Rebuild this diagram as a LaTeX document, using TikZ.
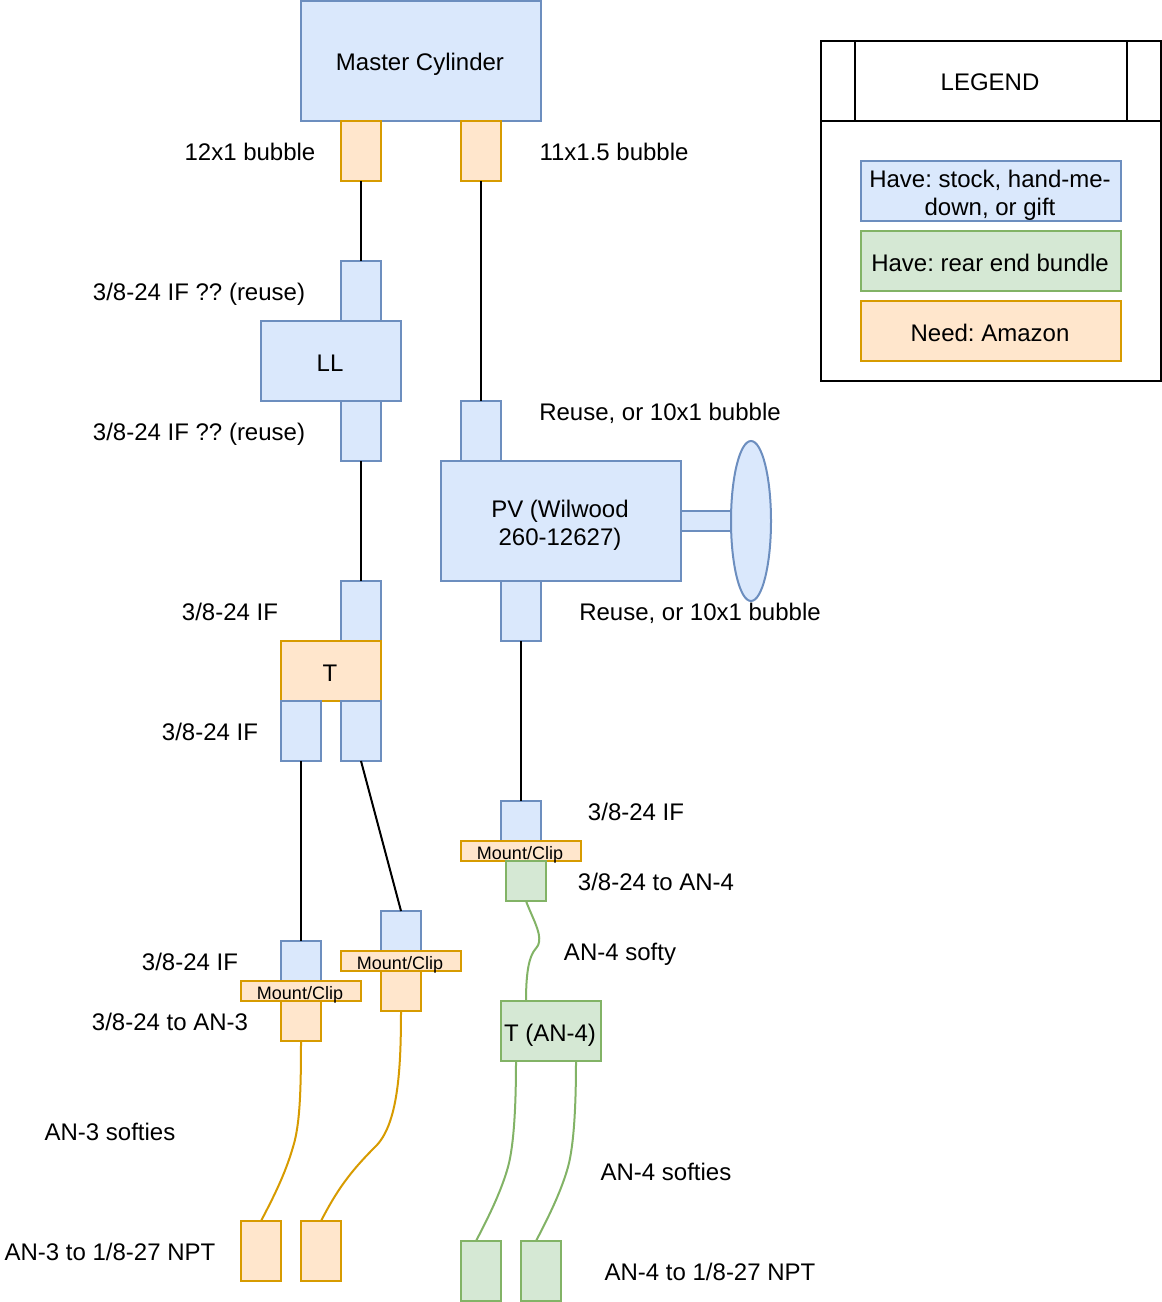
\documentclass[tikz,border=0pt]{standalone}
\usepackage{fontspec}
\setmainfont{Liberation Sans}
\usetikzlibrary{positioning, shapes.geometric}

\definecolor{haveFill}{HTML}{DAE8FC}
\definecolor{haveLine}{HTML}{6C8EBF}
\definecolor{needFill}{HTML}{FFE6CC}
\definecolor{needLine}{HTML}{D79B00}
\definecolor{rearFill}{HTML}{D5E8D4}
\definecolor{rearLine}{HTML}{82B366}

\begin{document}
\begin{tikzpicture}[
        x=0.75pt, y=-0.75pt,
        node distance = 0pt,
        line width=1.5pt,
        base/.style = {outer sep=0pt, inner sep=0pt, align=center,
                    font=\fontsize{18}{21}\selectfont\frenchspacing},
        box/.style = {base, rectangle, draw=#1Line, fill=#1Fill,
                    minimum width=30pt, minimum height=45pt},
        short/.style = {box=#1, minimum height=30pt},
        nudge/.style = {execute at begin node=\leavevmode\kern-1.5pt},
        clip/.style = {box=need, nudge, minimum width=90pt, minimum height=15pt,
                    font=\fontsize{13.5}{15}\selectfont, text height=12.5pt, text depth=0.4pt},
        tag/.style = {nudge, text height=17pt, text depth=2pt},
        lbl/.style = {base, text height=15pt, text depth=2pt},
        frame/.style = {base, rectangle, draw=black},
        hose/.style = {draw=#1Line, line width=1.5pt}
                    ]
        \useasboundingbox (0,0) rectangle (1162,1302);
        \node (mc) [box=have, tag, minimum width=180pt, minimum height=90pt] at (421,61) {Master Cylinder};
        \node (mcA) [box=need] at (361,151) {};
        \node (mcB) [box=need] at (481,151) {};
        %
        \node (llTop) [box=have] at (361,291) {};
        \node (ll) [box=have, tag, minimum width=105pt, minimum height=60pt] at (331,361) {LL};
        \node (llBot) [box=have] at (361,431) {};
        %
        \node (tTop) [box=have] at (361,611) {};
        \node (t) [box=need, tag, minimum width=75pt] at (331,671) {T};
        \node (tBotA) [box=have] at (301,731) {};
        \node (tBotB) [box=have] at (361,731) {};
        %
        \node (pvTop) [box=have] at (481,431) {};
        \node (pv) [box=have, nudge, minimum width=180pt, minimum height=90pt] at (561,521) {\rule{0pt}{19pt}PV (Wilwood\\260-12627)};
        \node (pvBot) [box=have] at (521,611) {};
        \node (stem) [box=have, minimum width=37.5pt, minimum height=15pt] at (706,521) {};
        \node (disc) [base, ellipse, draw=haveLine, fill=haveFill, minimum width=30pt, minimum height=120pt] at (751,521) {};
        %
        \node (frontA) [short=have] at (301,961) {};
        \node (clipA) [clip, below=of frontA] {Mount/Clip};
        \node (fitA) [short=need, below=of clipA] {};
        \node (frontB) [short=have] at (401,931) {};
        \node (clipB) [clip, below=of frontB] {Mount/Clip};
        \node (fitB) [short=need, below=of clipB] {};
        \node (rear) [short=have] at (521,821) {};
        \node (clipC) [clip, below=of rear] {Mount/Clip};
        \node (fitC) [short=rear] at (526,881) {};
        %
        \node (tan) [box=rear, tag, minimum width=75pt] at (551,1031) {T (AN-4)};
        \node (endA) [box=need] at (261,1251) {};
        \node (endB) [box=need] at (321,1251) {};
        \node (endC) [box=rear] at (481,1271) {};
        \node (endD) [box=rear] at (541,1271) {};
        %
        \draw (mcA) to (llTop);
        \draw (mcB) to (pvTop);
        \draw (llBot) to (tTop);
        \draw (pvBot) to (rear);
        \draw (tBotA) to (frontA);
        \draw (tBotB.south) to (frontB.north);
        %
        \draw[hose=need] (fitA.south) .. controls (301,1090) and (300,1125) .. (293,1147) .. controls (285,1175) and (272,1200) .. (endA.north);
        \draw[hose=need] (fitB.south) .. controls (401,1070) and (398,1125) .. (375,1147) .. controls (350,1172) and (337,1190) .. (endB.north);
        \draw[hose=rear] (fitC.south) .. controls (532,917) and (541,932) .. (539,942) .. controls (538,952) and (526,945) .. ([xshift=-18.75pt]tan.north);
        \draw[hose=rear] ([xshift=11.25pt]tan.south west) .. controls (516,1105) and (514,1145) .. (508,1167) .. controls (501,1192) and (488,1218) .. ([xshift=-3.75pt]endC.north);
        \draw[hose=rear] ([xshift=-18.75pt]tan.south east) .. controls (576,1105) and (574,1145) .. (568,1167) .. controls (561,1192) and (548,1218) .. ([xshift=-3.75pt]endD.north);
        %
        \node (lblA) [lbl] at (250,152) {12x1 bubble};
        \node (lblB) [lbl] at (614,152) {11x1.5 bubble};
        \node (lblC) [lbl] at (199,292) {3/8-24 IF ?? (reuse)};
        \node (lblD) [lbl] at (199,432) {3/8-24 IF ?? (reuse)};
        \node (lblE) [lbl] at (660,412) {Reuse, or 10x1 bubble};
        \node (lblF) [lbl] at (700,612) {Reuse, or 10x1 bubble};
        \node (lblG) [lbl] at (230,612) {3/8-24 IF};
        \node (lblH) [lbl] at (210,732) {3/8-24 IF};
        \node (lblI) [lbl] at (636,812) {3/8-24 IF};
        \node (lblJ) [lbl] at (190,962) {3/8-24 IF};
        \node (lblK) [lbl] at (656,882) {3/8-24 to AN-4};
        \node (lblL) [lbl] at (620,952) {AN-4 softy};
        \node (lblM) [lbl] at (170,1022) {3/8-24 to AN-3};
        \node (lblN) [lbl] at (110,1132) {AN-3 softies};
        \node (lblO) [lbl] at (666,1172) {AN-4 softies};
        \node (lblP) [lbl] at (110,1252) {AN-3 to 1/8-27 NPT};
        \node (lblQ) [lbl] at (710,1272) {AN-4 to 1/8-27 NPT};
        %
        \node (legend) [frame, tag, minimum width=255pt, minimum height=60pt] at (991,81) {LEGEND};
        \node (legendBody) [frame, minimum width=255pt, minimum height=195pt, below=of legend] {};
        \draw ([xshift=25.5pt]legend.north west) to ([xshift=25.5pt]legend.south west);
        \draw ([xshift=-25.5pt]legend.north east) to ([xshift=-25.5pt]legend.south east);
        \node (keyHave) [box=have, nudge, minimum width=195pt] at (991,191) {\rule{0pt}{19pt}Have: stock, hand-me-\\down, or gift};
        \node (keyRear) [box=rear, tag, minimum width=195pt] at (991,261) {Have: rear end bundle};
        \node (keyNeed) [box=need, tag, minimum width=195pt] at (991,331) {Need: Amazon};
\end{tikzpicture}
\end{document}
